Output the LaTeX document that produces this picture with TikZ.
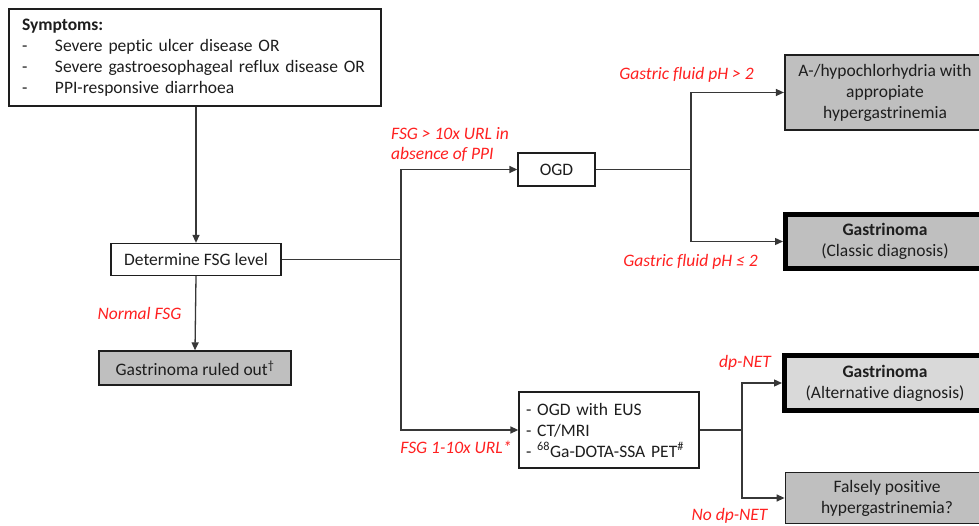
\documentclass[tikz,border=0pt]{standalone}
\usepackage{fontspec}
\setmainfont{Carlito}[Ligatures=NoCommon]
\usetikzlibrary{arrows.meta}
\definecolor{lbl}{RGB}{255,32,32}
\definecolor{ink}{RGB}{30,30,30}
\definecolor{gfill}{RGB}{191,191,191}
\definecolor{lfill}{RGB}{217,217,217}
\definecolor{wirec}{RGB}{55,55,55}
\begin{document}
\begin{tikzpicture}[x=1pt,y=-1pt,
  font=\fontsize{17.5}{21}\selectfont,
  box/.style={draw=ink, line width=1.3pt, fill=white, inner sep=0pt, align=center, text=ink},
  gbox/.style={box, fill=gfill},
  topbox/.style={box, fill=gfill, line width=2.2pt},
  heavy/.style={box, draw=black, line width=5pt},
  lab/.style={text=lbl, font=\fontsize{17.5}{20}\selectfont\itshape, inner sep=0pt, align=left},
  wire/.style={draw=wirec, line width=1.3pt},
  arr/.style={wire, -{Triangle[length=8pt,width=7pt]}}
]
\useasboundingbox (0,0) rectangle (979,526);
\fill[white] (0,0) rectangle (979,526);

% nodes
\node[box, align=left, text width=346pt, inner xsep=13pt, minimum height=97pt] (sym) at (195,57.5)
  {\textbf{Symptoms:}\\
   \makebox[33pt][l]{-}Severe peptic ulcer disease OR\\
   \makebox[33pt][l]{-}Severe gastroesophageal reflux disease OR\\
   \makebox[33pt][l]{-}PPI-responsive diarrhoea};
\node[box, minimum width=170pt, minimum height=32pt] (det) at (196,259.5) {Determine FSG level};
\node[gbox, minimum width=192pt, minimum height=34pt] (ruled) at (195,368) {Gastrinoma ruled out\textsuperscript{\textdagger}};
\node[box, minimum width=77pt, minimum height=33pt] (ogd) at (556.5,169.5) {OGD};
\node[box, align=left, text width=166pt, inner xsep=7pt, minimum height=76pt] (tests) at (609,430)
  {- OGD with EUS\\ - CT/MRI\\ - \textsuperscript{68}Ga-DOTA-SSA PET\textsuperscript{\#}};
\node[topbox, minimum width=200pt, minimum height=75pt] (top) at (885,92.5)
  {A-/hypochlorhydria with\\ appropiate\\ hypergastrinemia};
\node[heavy, fill=gfill, minimum width=199pt, minimum height=54pt] (classic) at (885,241.5)
  {\textbf{Gastrinoma}\\ (Classic diagnosis)};
\node[heavy, fill=lfill, minimum width=201pt, minimum height=55pt] (alt) at (885,383)
  {\textbf{Gastrinoma}\\ (Alternative diagnosis)};
\node[gbox, line width=1.8pt, minimum width=203pt, minimum height=51pt] (fals) at (887,498)
  {Falsely positive\\ hypergastrinemia?};

% labels
\node[lab] (lnormal) at (139.5,313) {Normal FSG};
\node[lab, anchor=west] (lhigh) at (391,145) {FSG > 10x URL in\\ absence of PPI};
\node[lab] (lmid) at (456,447) {FSG 1-10x URL*};
\node[lab] (lph1) at (686.5,75) {Gastric fluid pH > 2};
\node[lab] (lph2) at (690.5,262) {Gastric fluid pH ≤ 2};
\node[lab] (ldp) at (745,363) {dp-NET};
\node[lab] (lnodp) at (729.5,516) {No dp-NET};

% connectors
\coordinate (b1) at (401,259.5);
\coordinate (b2) at (691,169.5);
\coordinate (b3) at (742,430);
\draw[arr] (sym.south -| det.north) -- (det.north);
\draw[arr] (det.south) -- (ruled.north);
\draw[wire] (det.east) -- (b1);
\draw[arr] (b1) |- (ogd.west);
\draw[arr] (b1) |- (tests.west);
\draw[wire] (ogd.east) -- (b2);
\draw[arr] (b2) |- (top.west);
\draw[arr] (b2) |- (classic.west);
\draw[wire] (tests.east) -- (b3);
\draw[arr] (b3) |- (alt.west);
\draw[arr] (b3) |- (fals.west);
\end{tikzpicture}
\end{document}
